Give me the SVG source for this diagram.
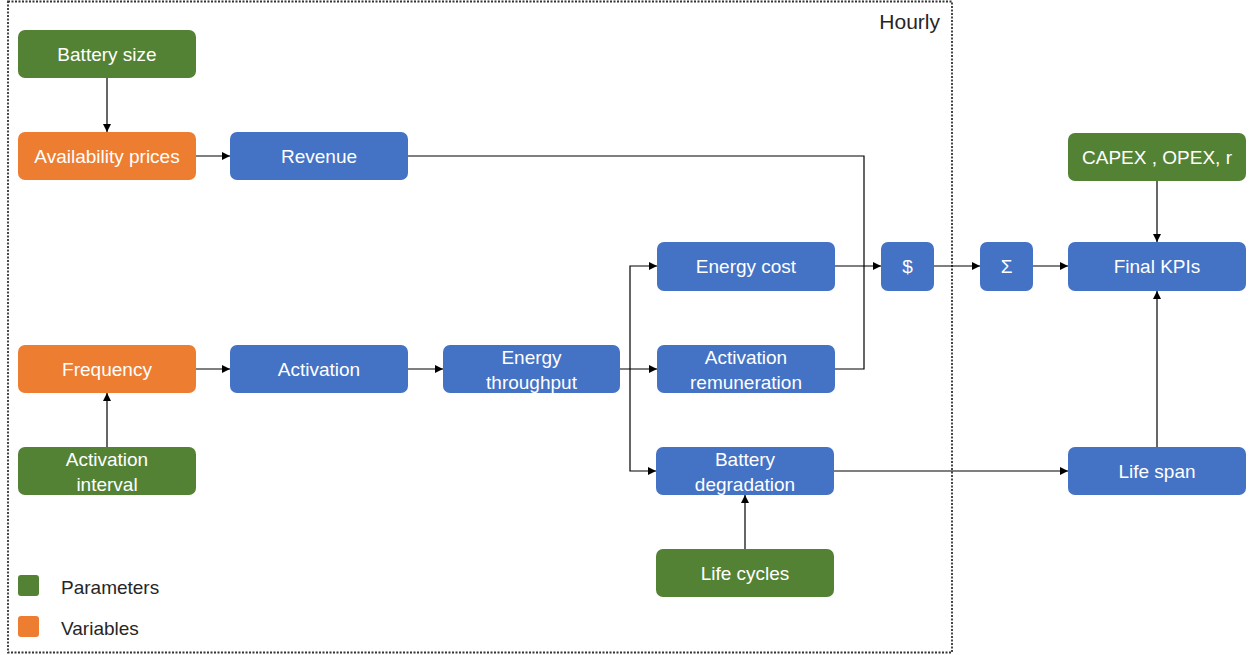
<svg xmlns="http://www.w3.org/2000/svg" width="1252" height="655" viewBox="0 0 1252 655">
<defs>
<marker id="arr" viewBox="0 0 10 10" refX="10" refY="5" markerWidth="8" markerHeight="8" markerUnits="userSpaceOnUse" orient="auto">
<path d="M0,0 L10,5 L0,10 z" fill="#000"/>
</marker>
</defs>
<style>
.g{fill:#548235}
.o{fill:#ED7D31}
.b{fill:#4472C4}
.t{font-family:"Liberation Sans",Arial,sans-serif;font-size:19px;fill:#fff;text-anchor:middle}
.l{font-family:"Liberation Sans",Arial,sans-serif;font-size:19px;fill:#262626}
.c{fill:none;stroke:#000;stroke-width:1.2}
.a{marker-end:url(#arr)}
</style>
<rect x="8" y="1.5" width="944" height="651" fill="none" stroke="#333" stroke-width="1.8" stroke-dasharray="2 1.5"/>
<text class="l" x="940" y="29" text-anchor="end" style="font-size:21px">Hourly</text>

<g id="connectors">
<path class="c a" d="M107,78 V132"/>
<path class="c a" d="M196,156 H230"/>
<path class="c" d="M408,156 H864 V369 H835"/>
<path class="c a" d="M835,266 H881"/>
<path class="c a" d="M934,266 H980"/>
<path class="c a" d="M1033,266 H1068"/>
<path class="c a" d="M1157,181 V242"/>
<path class="c a" d="M1157,447 V291"/>
<path class="c a" d="M834,471 H1068"/>
<path class="c a" d="M745,549 V495"/>
<path class="c a" d="M196,369 H230"/>
<path class="c a" d="M408,369 H443"/>
<path class="c a" d="M620,369 H657"/>
<path class="c a" d="M630,369 V266 H657"/>
<path class="c a" d="M630,369 V471 H656"/>
<path class="c a" d="M107,447 V393"/>
</g>

<g id="battery-size"><rect class="g" x="18" y="30" width="178" height="48" rx="7"/><text class="t" x="107" y="61">Battery size</text></g>
<g id="availability-prices"><rect class="o" x="18" y="132" width="178" height="48" rx="7"/><text class="t" x="107" y="163">Availability prices</text></g>
<g id="revenue"><rect class="b" x="230" y="132" width="178" height="48" rx="7"/><text class="t" x="319" y="163">Revenue</text></g>
<g id="frequency"><rect class="o" x="18" y="345" width="178" height="48" rx="7"/><text class="t" x="107" y="376">Frequency</text></g>
<g id="activation"><rect class="b" x="230" y="345" width="178" height="48" rx="7"/><text class="t" x="319" y="376">Activation</text></g>
<g id="energy-throughput"><rect class="b" x="443" y="345" width="177" height="48" rx="7"/><text class="t" x="531.5" y="364">Energy</text><text class="t" x="531.5" y="389">throughput</text></g>
<g id="energy-cost"><rect class="b" x="657" y="242" width="178" height="49" rx="7"/><text class="t" x="746" y="273">Energy cost</text></g>
<g id="activation-remuneration"><rect class="b" x="657" y="345" width="178" height="48" rx="7"/><text class="t" x="746" y="364">Activation</text><text class="t" x="746" y="389">remuneration</text></g>
<g id="battery-degradation"><rect class="b" x="656" y="447" width="178" height="48" rx="7"/><text class="t" x="745" y="466">Battery</text><text class="t" x="745" y="491">degradation</text></g>
<g id="life-cycles"><rect class="g" x="656" y="549" width="178" height="48" rx="7"/><text class="t" x="745" y="580">Life cycles</text></g>
<g id="activation-interval"><rect class="g" x="18" y="447" width="178" height="48" rx="7"/><text class="t" x="107" y="466">Activation</text><text class="t" x="107" y="491">interval</text></g>
<g id="dollar"><rect class="b" x="881" y="242" width="53" height="49" rx="7"/><text class="t" x="907.5" y="273">$</text></g>
<g id="sum"><rect class="b" x="980" y="242" width="53" height="49" rx="7"/><text class="t" x="1006.5" y="273">Σ</text></g>
<g id="final-kpis"><rect class="b" x="1068" y="242" width="178" height="49" rx="7"/><text class="t" x="1157" y="273">Final KPIs</text></g>
<g id="capex-opex-r"><rect class="g" x="1068" y="133" width="178" height="48" rx="7"/><text class="t" x="1157" y="164">CAPEX , OPEX, r</text></g>
<g id="life-span"><rect class="b" x="1068" y="447" width="178" height="48" rx="7"/><text class="t" x="1157" y="478">Life span</text></g>

<g id="legend">
<rect class="g" x="18" y="575" width="21" height="21" rx="3"/><text class="l" x="61" y="594">Parameters</text>
<rect class="o" x="18" y="616" width="21" height="21" rx="3"/><text class="l" x="61" y="635">Variables</text>
</g>
</svg>
